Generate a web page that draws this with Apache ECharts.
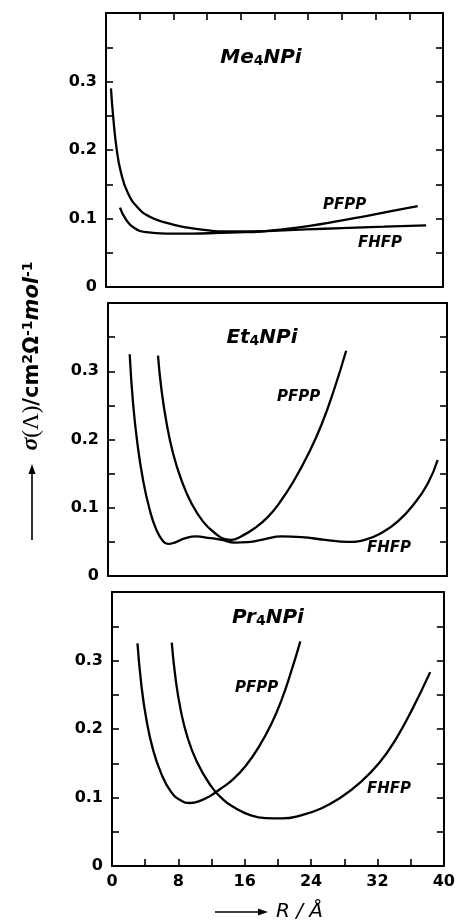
<!DOCTYPE html>
<html>
<head>
<meta charset="utf-8">
<script src="https://cdn.jsdelivr.net/npm/echarts@6/dist/echarts.min.js"></script>
<style>
html, body { margin: 0; padding: 0; background: #fff; }
#chart { width: 458px; height: 924px; }
</style>
</head>
<body>
<div id="chart"></div>
<script>
// values: [R / Å, sigma]
const mePfpp = [[0.59, 0.29], [0.87, 0.246], [1.27, 0.201], [1.78, 0.167], [2.57, 0.138], [3.76, 0.116], [5.14, 0.103], [7.1, 0.094], [9.5, 0.087], [11.9, 0.083], [14.2, 0.081], [17.8, 0.081], [21.4, 0.085], [24, 0.089], [27, 0.095], [31, 0.104], [34, 0.111], [37, 0.118]]
const meFhfp = [[1.66, 0.116], [2.37, 0.0985], [3.36, 0.086], [4.75, 0.080], [7.1, 0.078], [10.3, 0.078], [13.5, 0.079], [16.6, 0.080], [19.8, 0.082], [23.7, 0.084], [28, 0.086], [33, 0.088], [38, 0.090]]

const etPfpp = [[5.9, 0.323], [6.3, 0.274], [6.9, 0.225], [7.67, 0.180], [8.65, 0.141], [9.83, 0.107], [11.2, 0.080], [12.6, 0.063], [13.8, 0.054], [14.55, 0.053], [15.7, 0.058], [17.3, 0.070], [18.9, 0.087], [20.45, 0.111], [22.0, 0.141], [23.6, 0.178], [25.2, 0.222], [26.7, 0.274], [28.1, 0.330]]
const etFhfp = [[2.56, 0.325], [2.95, 0.254], [3.46, 0.195], [4.13, 0.141], [4.92, 0.097], [5.7, 0.068], [6.5, 0.051], [7.08, 0.047], [7.87, 0.049], [9.05, 0.055], [10.4, 0.058], [11.8, 0.056], [13.4, 0.053], [14.95, 0.049], [16.5, 0.0495], [18.5, 0.054], [20.45, 0.058], [22.8, 0.057], [25.6, 0.053], [28.3, 0.050], [30.3, 0.053], [32.25, 0.063], [34.2, 0.080], [36.2, 0.107], [37.75, 0.136], [38.9, 0.170]]

const prPfpp = [[3.07, 0.325], [3.54, 0.264], [4.13, 0.215], [4.92, 0.171], [5.9, 0.136], [7.08, 0.109], [8.26, 0.096], [9.44, 0.092], [10.6, 0.095], [11.8, 0.102], [13, 0.112], [14.55, 0.126], [16.1, 0.146], [17.7, 0.174], [19.3, 0.21], [20.45, 0.243], [21.6, 0.284], [22.7, 0.328]]
const prFhfp = [[7.2, 0.326], [7.67, 0.273], [8.26, 0.229], [9.05, 0.19], [10.2, 0.153], [11.8, 0.119], [13.4, 0.097], [14.95, 0.084], [16.5, 0.075], [18.5, 0.070], [20.45, 0.0695], [22.8, 0.074], [25.2, 0.084], [27.5, 0.0995], [29.9, 0.1216], [32.25, 0.151], [34.2, 0.185], [36.2, 0.229], [38.35, 0.283]]

const xLabels = [0, 8, 16, 24, 32, 40]
const yLabels = [0, 0.1, 0.2, 0.3]
const panelNames = ['Me', 'Et', 'Pr']

const panelSeries = [[mePfpp, meFhfp], [etPfpp, etFhfp], [prPfpp, prFhfp]]

const sans = '"DejaVu Sans", sans-serif'
const black = '#000'

const grids = [
  { left: 106, top: 13, right: 15, height: 274 },
  { left: 108, top: 303, right: 11, height: 273 },
  { left: 112, top: 592, right: 7, height: 274 }
]

const frameLine = { show: true, onZero: false, lineStyle: { color: black, width: 2 } }
const tick = { inside: true, length: 7, lineStyle: { color: black, width: 1.6 } }

const xAxes = []
const yAxes = []
const series = []

grids.forEach((g, i) => {
  xAxes.push({
    gridIndex: i, type: 'value', min: 0, max: 40, interval: 4, position: 'bottom',
    axisLine: frameLine,
    axisTick: Object.assign({ show: i === 2 }, tick),
    axisLabel: {
      show: i === 2, margin: 8, color: black, fontFamily: sans, fontWeight: 'bold', fontSize: 16,
      formatter: v => xLabels.includes(v) ? String(v) : ''
    },
    splitLine: { show: false }
  })
  xAxes.push({
    gridIndex: i, type: 'value', min: 0, max: 40, interval: 4, position: 'top',
    axisLine: frameLine,
    axisTick: Object.assign({ show: i === 0 }, tick),
    axisLabel: { show: false },
    splitLine: { show: false }
  })
  yAxes.push({
    gridIndex: i, type: 'value', min: 0, max: 0.4, interval: 0.05, position: 'left',
    axisLine: frameLine,
    axisTick: tick,
    axisLabel: {
      margin: 9, color: black, fontFamily: sans, fontWeight: 'bold', fontSize: 16,
      formatter: v => {
        const r = Math.round(v * 100) / 100
        return yLabels.includes(r) ? String(r) : ''
      }
    },
    splitLine: { show: false }
  })
  yAxes.push({
    gridIndex: i, type: 'value', min: 0, max: 0.4, interval: 0.05, position: 'right',
    axisLine: frameLine,
    axisTick: tick,
    axisLabel: { show: false },
    splitLine: { show: false }
  })
  panelSeries[i].forEach(d => {
    series.push({
      type: 'line', xAxisIndex: 2 * i, yAxisIndex: 2 * i, data: d,
      smooth: 0.5, showSymbol: false, silent: true,
      lineStyle: { color: black, width: 2.3 }
    })
  })
})

const titleRich = {
  m: { fontFamily: sans, fontSize: 20, fontStyle: 'italic', fontWeight: 'bold', lineHeight: 20, padding: [0, 0, 8, 0], verticalAlign: 'top', fill: black },
  s: { fontFamily: sans, fontSize: 14, fontWeight: 'bold', lineHeight: 14, verticalAlign: 'bottom', fill: black }
}
const titleText = (name, x, y) => ({
  type: 'text', x: x, y: y,
  style: { text: '{m|' + name + '}{s|4}{m|NPi}', rich: titleRich, align: 'center', verticalAlign: 'middle' }
})
const curveLabel = (t, x, y) => ({
  type: 'text', x: x, y: y,
  style: { text: t, fontFamily: sans, fontSize: 15, fontStyle: 'italic', fontWeight: 'bold', fill: black, align: 'left', verticalAlign: 'middle' }
})

const yTitleRich = {
  g: { fontFamily: '"Liberation Serif", serif', fontSize: 24, fontStyle: 'italic', fontWeight: 'bold', lineHeight: 22, padding: [6, 0, 0, 0], verticalAlign: 'bottom', fill: black },
  p: { fontFamily: '"Liberation Serif", serif', fontSize: 23, lineHeight: 22, padding: [6, 0, 0, 0], verticalAlign: 'bottom', fill: black },
  m: { fontFamily: sans, fontSize: 21, fontWeight: 'bold', lineHeight: 22, padding: [6, 0, 0, 0], verticalAlign: 'bottom', fill: black },
  i: { fontFamily: sans, fontSize: 21, fontWeight: 'bold', fontStyle: 'italic', lineHeight: 22, padding: [6, 0, 0, 0], verticalAlign: 'bottom', fill: black },
  s: { fontFamily: sans, fontSize: 14, fontWeight: 'bold', lineHeight: 14, verticalAlign: 'top', fill: black }
}

const option = {
  backgroundColor: '#fff',
  animation: false,
  grid: grids,
  xAxis: xAxes,
  yAxis: yAxes,
  series: series,
  graphic: [
    titleText(panelNames[0], 261, 58),
    titleText(panelNames[1], 262, 338),
    titleText(panelNames[2], 268, 618),
    curveLabel('PFPP', 323, 205),
    curveLabel('FHFP', 358, 243),
    curveLabel('PFPP', 277, 397),
    curveLabel('FHFP', 367, 548),
    curveLabel('PFPP', 235, 688),
    curveLabel('FHFP', 367, 789),
    // y axis title with arrow
    { type: 'line', shape: { x1: 32, y1: 540, x2: 32, y2: 472 }, style: { stroke: black, lineWidth: 1.6 } },
    { type: 'polygon', shape: { points: [[32, 464], [28.5, 474], [35.5, 474]] }, style: { fill: black } },
    {
      type: 'text', x: 32, y: 356, rotation: Math.PI / 2,
      style: {
        text: '{g|σ}{p|(Λ)}{m|/cm}{s|2}{m|Ω}{s|-1}{i|mol}{s|-1}',
        rich: yTitleRich, align: 'center', verticalAlign: 'middle'
      }
    },
    // x axis title with arrow
    { type: 'line', shape: { x1: 215, y1: 912, x2: 260, y2: 912 }, style: { stroke: black, lineWidth: 1.6 } },
    { type: 'polygon', shape: { points: [[268, 912], [258, 908.5], [258, 915.5]] }, style: { fill: black } },
    {
      type: 'text', x: 276, y: 912,
      style: { text: 'R / Å', fontFamily: sans, fontSize: 20, fontStyle: 'italic', fill: black, align: 'left', verticalAlign: 'middle' }
    }
  ]
}

const chart = echarts.init(document.getElementById('chart'))
chart.setOption(option)
window.addEventListener('resize', () => chart.resize())
</script>
</body>
</html>
